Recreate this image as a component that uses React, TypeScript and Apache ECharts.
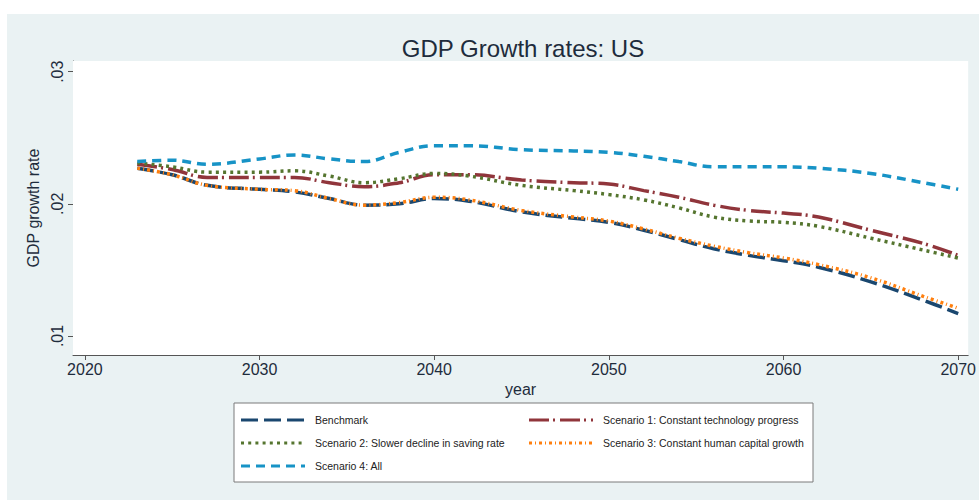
import React, { useEffect, useRef } from "react";
import * as echarts from "echarts";

const years = [2023, 2025, 2027, 2030, 2032, 2034, 2036, 2038, 2040, 2042, 2045, 2048, 2050, 2052, 2054, 2056, 2058, 2060, 2062, 2065, 2068, 2070];

const benchmark = [0.0227, 0.0222, 0.0214, 0.0211, 0.0209, 0.0204, 0.0199, 0.0200, 0.0204, 0.0202, 0.0194, 0.0189, 0.0186, 0.0180, 0.0173, 0.0166, 0.0161, 0.0157, 0.0152, 0.0141, 0.0127, 0.0117];
const scenario1 = [0.0230, 0.0226, 0.0220, 0.0220, 0.0220, 0.0216, 0.0213, 0.0216, 0.0222, 0.0222, 0.0218, 0.0216, 0.0215, 0.0210, 0.0205, 0.0199, 0.0195, 0.0193, 0.0190, 0.0180, 0.0170, 0.0161];
const scenario2 = [0.0231, 0.0228, 0.0224, 0.0224, 0.0225, 0.0221, 0.0216, 0.0219, 0.0223, 0.0221, 0.0214, 0.0210, 0.0207, 0.0203, 0.0197, 0.0190, 0.0187, 0.0186, 0.0183, 0.0174, 0.0165, 0.0159];
const scenario3 = [0.0227, 0.0222, 0.0214, 0.0211, 0.0210, 0.0204, 0.0199, 0.0201, 0.0205, 0.0203, 0.0195, 0.0190, 0.0187, 0.0181, 0.0174, 0.0168, 0.0163, 0.0159, 0.0154, 0.0144, 0.0130, 0.0121];
const scenario4 = [0.0232, 0.0233, 0.0230, 0.0234, 0.0237, 0.0234, 0.0232, 0.0239, 0.0244, 0.0244, 0.0241, 0.0240, 0.0239, 0.0236, 0.0232, 0.0228, 0.0228, 0.0228, 0.0227, 0.0223, 0.0216, 0.0211];

const seriesNames = [
  "Benchmark",
  "Scenario 1: Constant technology progress",
  "Scenario 2: Slower decline in saving rate",
  "Scenario 3: Constant human capital growth",
  "Scenario 4: All",
];

const xTicks = [2020, 2030, 2040, 2050, 2060, 2070];
const xTickLabels = ["2020", "2030", "2040", "2050", "2060", "2070"];
const yTicks = [0.01, 0.02, 0.03];
const yTickLabels = [".01", ".02", ".03"];

const FONT = "'Liberation Sans', Arial, sans-serif";

export default function App() {
  const ref = useRef<HTMLDivElement>(null);

  useEffect(() => {
    if (!ref.current) return;
    const chart = echarts.init(ref.current, null, { renderer: "svg" });

    const allSeries = [benchmark, scenario1, scenario2, scenario3, scenario4];
    const colors = ["#1a476f", "#90353b", "#55752f", "#ff7f0e", "#1793c6"];
    const dashes: number[][] = [
      [17, 6],
      [20, 4, 2, 5],
      [3, 4.2],
      [3, 3, 1, 3],
      [9, 6],
    ];

    // legend layout: [column x of line start, row y] for each series
    const legendPos: number[][] = [
      [241, 420],
      [529, 420],
      [241, 443],
      [529, 443],
      [241, 466],
    ];

    const legendGraphics: any[] = [];
    seriesNames.forEach((name, i) => {
      const [lx, ly] = legendPos[i];
      legendGraphics.push({
        type: "line",
        z: 5,
        silent: true,
        shape: { x1: lx, y1: ly, x2: lx + 64, y2: ly },
        style: { stroke: colors[i], lineWidth: 3, lineDash: dashes[i], lineCap: "butt" },
      });
      legendGraphics.push({
        type: "text",
        z: 5,
        silent: true,
        x: lx + 74,
        y: ly,
        style: {
          text: name,
          fontSize: 10.5,
          fontFamily: FONT,
          fill: "#222222",
          verticalAlign: "middle",
          align: "left",
        },
      });
    });

    const option: any = {
      animation: false,
      backgroundColor: "#ffffff",
      textStyle: { fontFamily: FONT },
      title: {
        text: "GDP Growth rates: US",
        left: 518,
        top: 31,
        textAlign: "center",
        textStyle: { fontSize: 24, fontWeight: "normal", color: "#1e2c3c", fontFamily: FONT },
      },
      graphic: [
        { type: "rect", z: -10, silent: true, shape: { x: 7, y: 14, width: 972, height: 486 }, style: { fill: "#eaf2f3" } },
        { type: "rect", z: 0, silent: true, shape: { x: 234, y: 403, width: 579, height: 79 }, style: { fill: "#ffffff", stroke: "#7a7a7a", lineWidth: 1 } },
        ...legendGraphics,
      ],
      grid: {
        left: 73,
        top: 61,
        right: 6,
        bottom: 145,
        show: true,
        backgroundColor: "#ffffff",
        borderWidth: 0,
        z: 1,
      },
      xAxis: {
        type: "value",
        min: 2019.32,
        max: 2070.57,
        name: "year",
        nameLocation: "middle",
        nameGap: 19,
        nameTextStyle: { fontSize: 16, color: "#1e2c3c", fontFamily: FONT },
        axisLine: { show: true, onZero: false, lineStyle: { color: "#555", width: 1 } },
        axisTick: { show: true, length: 5, customValues: xTicks, lineStyle: { color: "#555" } },
        axisLabel: {
          customValues: xTicks,
          fontSize: 16,
          color: "#1e2c3c",
          margin: 6,
          fontFamily: FONT,
          formatter: (v: number) => {
            const i = xTicks.findIndex((t) => Math.abs(t - v) < 1e-6);
            return i >= 0 ? xTickLabels[i] : "";
          },
        },
        splitLine: { show: false },
      },
      yAxis: {
        type: "value",
        min: 0.00856,
        max: 0.03081,
        name: "GDP growth rate",
        nameLocation: "middle",
        nameRotate: 90,
        nameGap: 30,
        nameTextStyle: { fontSize: 16, color: "#1e2c3c", fontFamily: FONT },
        axisLine: { show: true, onZero: false, lineStyle: { color: "#555", width: 1 } },
        axisTick: { show: true, length: 5, customValues: yTicks, lineStyle: { color: "#555" } },
        axisLabel: {
          customValues: yTicks,
          rotate: 90,
          fontSize: 16,
          color: "#1e2c3c",
          margin: 8,
          fontFamily: FONT,
          formatter: (v: number) => {
            const i = yTicks.findIndex((t) => Math.abs(t - v) < 1e-9);
            return i >= 0 ? yTickLabels[i] : "";
          },
        },
        splitLine: { show: true, lineStyle: { color: "#e3edf0", width: 1 } },
      },
      series: allSeries.map((vals, i) => ({
        name: seriesNames[i],
        type: "line",
        smooth: 0.4,
        symbol: "none",
        z: 3 + i,
        color: colors[i],
        lineStyle: { color: colors[i], width: 3.5, type: dashes[i], cap: "butt" },
        data: years.map((y, j) => [y, vals[j]]),
      })),
    };

    chart.setOption(option);
    return () => chart.dispose();
  }, []);

  return <div ref={ref} style={{ position: "fixed", left: 0, top: 0, width: 979, height: 500 }} />;
}
